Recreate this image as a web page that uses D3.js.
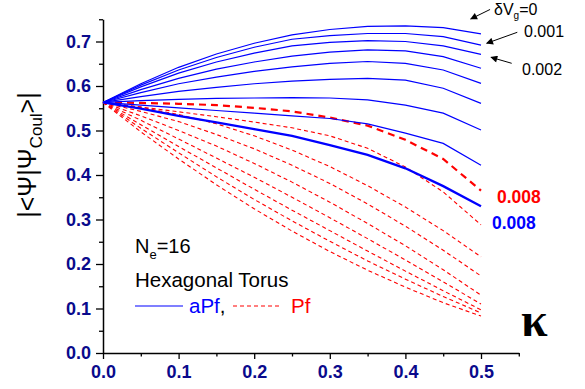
<!DOCTYPE html>
<html>
<head>
<meta charset="utf-8">
<script src="https://cdn.jsdelivr.net/npm/d3@7/dist/d3.min.js"></script>
<style>
  body { margin: 0; background: #fff; }
  svg { display: block; font-family: "Liberation Sans", Arial, sans-serif; }
</style>
</head>
<body>
<svg id="chart" width="585" height="389"></svg>
<script>
// kappa values along the x axis
const kappa = [0, 0.05, 0.1, 0.15, 0.2, 0.25, 0.3, 0.35, 0.4, 0.45, 0.5];
// gate potential steps, one curve each
const dVg = ['0', '0.001', '0.002', '0.003', '0.004', '0.005', '0.006', '0.007', '0.008'];

// overlap with anti-Pfaffian (blue, solid)
const aPf = [
  [0.563, 0.605, 0.642, 0.672, 0.696, 0.715, 0.727, 0.734, 0.735, 0.731, 0.717],
  [0.563, 0.602, 0.636, 0.664, 0.687, 0.705, 0.713, 0.718, 0.718, 0.711, 0.692],
  [0.563, 0.598, 0.629, 0.654, 0.674, 0.690, 0.698, 0.702, 0.700, 0.690, 0.671],
  [0.563, 0.592, 0.617, 0.638, 0.654, 0.667, 0.676, 0.681, 0.679, 0.666, 0.640],
  [0.563, 0.585, 0.605, 0.620, 0.633, 0.643, 0.651, 0.655, 0.651, 0.636, 0.606],
  [0.563, 0.576, 0.588, 0.597, 0.605, 0.611, 0.615, 0.617, 0.613, 0.595, 0.561],
  [0.563, 0.567, 0.570, 0.572, 0.573, 0.574, 0.573, 0.569, 0.557, 0.539, 0.501],
  [0.563, 0.557, 0.551, 0.545, 0.539, 0.533, 0.527, 0.515, 0.494, 0.471, 0.422],
  [0.563, 0.549, 0.533, 0.518, 0.503, 0.488, 0.467, 0.445, 0.415, 0.375, 0.330]
];

// overlap with Pfaffian (red, dashed)
const pf = [
  [0.563, 0.497, 0.436, 0.378, 0.324, 0.274, 0.228, 0.186, 0.148, 0.113, 0.083],
  [0.563, 0.505, 0.450, 0.396, 0.345, 0.297, 0.251, 0.207, 0.166, 0.127, 0.090],
  [0.563, 0.513, 0.464, 0.416, 0.368, 0.321, 0.275, 0.229, 0.184, 0.140, 0.097],
  [0.563, 0.523, 0.481, 0.438, 0.395, 0.350, 0.304, 0.257, 0.209, 0.160, 0.110],
  [0.563, 0.533, 0.500, 0.465, 0.426, 0.384, 0.339, 0.291, 0.241, 0.187, 0.130],
  [0.563, 0.543, 0.520, 0.491, 0.459, 0.422, 0.381, 0.335, 0.285, 0.231, 0.173],
  [0.563, 0.552, 0.536, 0.515, 0.488, 0.456, 0.419, 0.376, 0.328, 0.275, 0.216],
  [0.563, 0.553, 0.542, 0.531, 0.519, 0.506, 0.488, 0.460, 0.418, 0.362, 0.288],
  [0.563, 0.562, 0.560, 0.557, 0.551, 0.543, 0.529, 0.511, 0.479, 0.436, 0.365]
];

const xTicks = [0, 0.1, 0.2, 0.3, 0.4, 0.5];
const yTicks = [0, 0.1, 0.2, 0.3, 0.4, 0.5, 0.6, 0.7];

const blue = '#0000ff';
const red = '#ff0000';
const navy = '#0a0a8c';

const svg = d3.select('#chart');
const x = d3.scaleLinear().domain([0, 0.55]).range([103, 518.8]);
const y = d3.scaleLinear().domain([0, 0.75]).range([353, 19.25]);

// arrow marker
svg.append('defs').append('marker')
  .attr('id', 'arr')
  .attr('viewBox', '0 0 10 10')
  .attr('refX', 9).attr('refY', 5)
  .attr('markerWidth', 8).attr('markerHeight', 7)
  .attr('markerUnits', 'userSpaceOnUse')
  .attr('orient', 'auto')
  .append('path').attr('d', 'M0,0 L10,5 L0,10 z').attr('fill', '#000');

// axes
const xMinor = d3.range(0, 0.5501, 0.05).filter(v => Math.round(v * 100) % 10 !== 0);
const yMinor = d3.range(0, 0.7501, 0.05).filter(v => Math.round(v * 100) % 10 !== 0);

svg.append('g').attr('transform', `translate(0,${y(0)})`)
  .call(d3.axisBottom(x).tickValues(xTicks).tickFormat(d3.format('.1f')).tickSize(6).tickSizeOuter(0).tickPadding(6));
svg.append('g').attr('transform', `translate(0,${y(0)})`)
  .call(d3.axisBottom(x).tickValues(xMinor).tickFormat('').tickSize(3.5).tickSizeOuter(0))
  .select('.domain').remove();

svg.append('g').attr('transform', `translate(${x(0)},0)`)
  .call(d3.axisLeft(y).tickValues(yTicks).tickFormat(d3.format('.1f')).tickSize(7).tickSizeOuter(0).tickPadding(5));
svg.append('g').attr('transform', `translate(${x(0)},0)`)
  .call(d3.axisLeft(y).tickValues(yMinor).tickFormat('').tickSize(4).tickSizeOuter(0))
  .select('.domain').remove();

svg.selectAll('.domain').attr('stroke', '#000').attr('stroke-width', 1.5);
svg.selectAll('.tick line').attr('stroke', '#000').attr('stroke-width', 1.3);
svg.selectAll('.tick text')
  .attr('fill', navy)
  .style('font-family', '"Liberation Sans", Arial, sans-serif')
  .style('font-size', '18px')
  .style('font-weight', 'bold');

// curves
const line = d3.line().x((d, i) => x(kappa[i])).y(d => y(d));

svg.append('g').selectAll('path.pf')
  .data(pf).enter().append('path')
  .attr('class', 'pf')
  .attr('d', line)
  .attr('fill', 'none')
  .attr('stroke', red)
  .attr('stroke-width', (d, i) => i === dVg.length - 1 ? 2.2 : 1.1)
  .attr('stroke-dasharray', (d, i) => i === dVg.length - 1 ? '7,5' : '4,3');

svg.append('g').selectAll('path.apf')
  .data(aPf).enter().append('path')
  .attr('class', 'apf')
  .attr('d', line)
  .attr('fill', 'none')
  .attr('stroke', blue)
  .attr('stroke-width', (d, i) => i === dVg.length - 1 ? 2.3 : 1.2);

// y axis title
const yt = svg.append('text')
  .attr('transform', 'translate(36,155) rotate(-90)')
  .attr('text-anchor', 'middle')
  .style('font-size', '25px')
  .attr('fill', '#000');
yt.append('tspan').text('|<\u03A8|\u03A8');
yt.append('tspan').attr('dy', 6).style('font-size', '17px').text('Coul');
yt.append('tspan').attr('dy', -6).text('>|');

// x axis title
svg.append('text')
  .attr('x', 521).attr('y', 336)
  .style('font-family', '"Liberation Serif", "Times New Roman", serif')
  .style('font-size', '48px')
  .style('font-weight', 'bold')
  .attr('fill', '#000')
  .text('\u03BA');

// legend
const ne = svg.append('text').attr('x', 135).attr('y', 253).style('font-size', '20px').attr('fill', '#000');
ne.append('tspan').text('N');
ne.append('tspan').attr('dy', 6).style('font-size', '13px').text('e');
ne.append('tspan').attr('dy', -6).text('=16');

svg.append('text').attr('x', 135).attr('y', 287).style('font-size', '20.5px').attr('fill', '#000')
  .text('Hexagonal Torus');

svg.append('line').attr('x1', 135).attr('x2', 183).attr('y1', 306).attr('y2', 306)
  .attr('stroke', blue).attr('stroke-width', 1.2);
const lg = svg.append('text').attr('x', 189).attr('y', 313).style('font-size', '20.5px');
lg.append('tspan').attr('fill', blue).text('aPf');
lg.append('tspan').attr('fill', '#000').text(',');
svg.append('line').attr('x1', 233).attr('x2', 281).attr('y1', 306).attr('y2', 306)
  .attr('stroke', red).attr('stroke-width', 1.1).attr('stroke-dasharray', '4,3');
svg.append('text').attr('x', 291).attr('y', 313).style('font-size', '20.5px').attr('fill', red).text('Pf');

// annotations on the right
const dv = svg.append('text').attr('x', 494).attr('y', 15).style('font-size', '16px').attr('fill', '#000');
dv.append('tspan').text('\u03B4V');
dv.append('tspan').attr('dy', 4).style('font-size', '10px').text('g');
dv.append('tspan').attr('dy', -4).text('=0');
svg.append('text').attr('x', 524).attr('y', 37).style('font-size', '16px').attr('fill', '#000').text('0.001');
svg.append('text').attr('x', 522).attr('y', 75).style('font-size', '16px').attr('fill', '#000').text('0.002');

const arrows = [
  [0.512, 0.772, 0.4864, 0.7506],
  [0.548, 0.7207, 0.5075, 0.696],
  [0.5406, 0.651, 0.5132, 0.6645]
];
svg.append('g').selectAll('line').data(arrows).enter().append('line')
  .attr('x1', d => x(d[0])).attr('y1', d => y(d[1]))
  .attr('x2', d => x(d[2])).attr('y2', d => y(d[3]))
  .attr('stroke', '#000').attr('stroke-width', 1)
  .attr('marker-end', 'url(#arr)');

svg.append('text').attr('x', 497).attr('y', 203).style('font-size', '17.5px').style('font-weight', 'bold')
  .attr('fill', red).text(dVg[8]);
svg.append('text').attr('x', 492).attr('y', 229).style('font-size', '17.5px').style('font-weight', 'bold')
  .attr('fill', blue).text(dVg[8]);
</script>
</body>
</html>
